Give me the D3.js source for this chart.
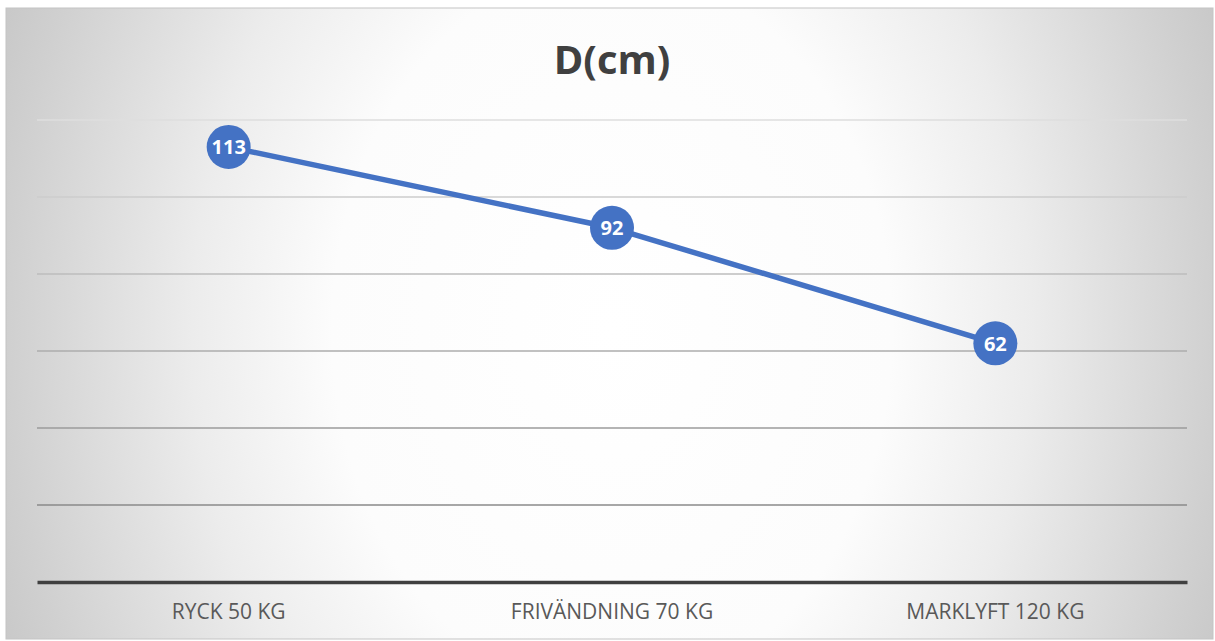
<!DOCTYPE html>
<html>
<head>
<meta charset="utf-8">
<script src="https://cdn.jsdelivr.net/npm/d3@7"></script>
<style>
  html, body { margin: 0; padding: 0; background: #ffffff; }
  svg { display: block; }
</style>
</head>
<body>
<svg id="chart" width="1215" height="641"></svg>
<script>
// Series data
const categories = ["RYCK 50 KG", "FRIVÄNDNING 70 KG", "MARKLYFT 120 KG"];
const values = [113, 92, 62];
const yTicks = [0, 20, 40, 60, 80, 100, 120];
const title = "D(cm)";

const svg = d3.select("#chart");
const FONT = "'Open Sans', Calibri, 'Noto Sans', sans-serif";

// Chart frame and plot area
const frame = { x: 6, y: 8, w: 1207, h: 631 };
const plot = { left: 37, right: 1187, top: 120, bottom: 582 };

// Radial background: white centre fading to grey at the edges
const defs = svg.append("defs");
const bg = defs.append("radialGradient")
  .attr("id", "bgGrad")
  .attr("gradientUnits", "userSpaceOnUse")
  .attr("cx", 612).attr("cy", 330)
  .attr("r", 700)
  .attr("gradientTransform", "translate(612,330) scale(1,1.3) translate(-612,-330)");
bg.append("stop").attr("offset", "0%").attr("stop-color", "#ffffff");
bg.append("stop").attr("offset", "40%").attr("stop-color", "#fcfcfc");
bg.append("stop").attr("offset", "60%").attr("stop-color", "#ececec");
bg.append("stop").attr("offset", "86%").attr("stop-color", "#d0d0d0");
bg.append("stop").attr("offset", "100%").attr("stop-color", "#c2c2c2");

svg.append("rect")
  .attr("x", frame.x).attr("y", frame.y)
  .attr("width", frame.w).attr("height", frame.h)
  .attr("fill", "url(#bgGrad)")
  .attr("stroke", "#c4c4c4").attr("stroke-width", 1);

const x = d3.scaleBand()
  .domain(categories)
  .range([plot.left, plot.right]);

const y = d3.scaleLinear()
  .domain([0, 120])
  .range([plot.bottom, plot.top]);

// Gridlines: darker toward the bottom of the plot
const gridColor = d3.scaleLinear()
  .domain([120, 20])
  .range(["#dedede", "#8a8a8a"]);

svg.append("g")
  .selectAll("line")
  .data(yTicks.filter(t => t > 0))
  .join("line")
  .attr("x1", plot.left).attr("x2", plot.right)
  .attr("y1", d => y(d)).attr("y2", d => y(d))
  .attr("stroke", d => gridColor(d))
  .attr("stroke-width", 1.3);

// Category axis
const xAxis = svg.append("g")
  .attr("transform", `translate(0,${y(0)})`)
  .call(d3.axisBottom(x).tickSize(0).tickPadding(22));
xAxis.select(".domain")
  .attr("stroke", "#404040")
  .attr("stroke-width", 3.5);
xAxis.selectAll("text")
  .attr("fill", "#595959")
  .style("font-family", FONT)
  .style("font-size", "21px");

// Line
const line = d3.line()
  .x((d, i) => x(categories[i]) + x.bandwidth() / 2)
  .y(d => y(d));

svg.append("path")
  .datum(values)
  .attr("d", line)
  .attr("fill", "none")
  .attr("stroke", "#4472c4")
  .attr("stroke-width", 5.5)
  .attr("stroke-linejoin", "round");

// Markers with value labels
const pts = svg.append("g")
  .selectAll("g")
  .data(values)
  .join("g")
  .attr("transform", (d, i) => `translate(${x(categories[i]) + x.bandwidth() / 2},${y(d)})`);

pts.append("circle")
  .attr("r", 22)
  .attr("fill", "#4472c4");

pts.append("text")
  .text(d => d)
  .attr("text-anchor", "middle")
  .attr("dy", "0.36em")
  .attr("fill", "#ffffff")
  .style("font-family", FONT)
  .style("font-weight", "bold")
  .style("font-size", "20px");

// Title
svg.append("text")
  .attr("x", 612).attr("y", 74)
  .attr("text-anchor", "middle")
  .attr("fill", "#404040")
  .style("font-family", FONT)
  .style("font-weight", "bold")
  .style("font-size", "40px")
  .text(title);
</script>
</body>
</html>
